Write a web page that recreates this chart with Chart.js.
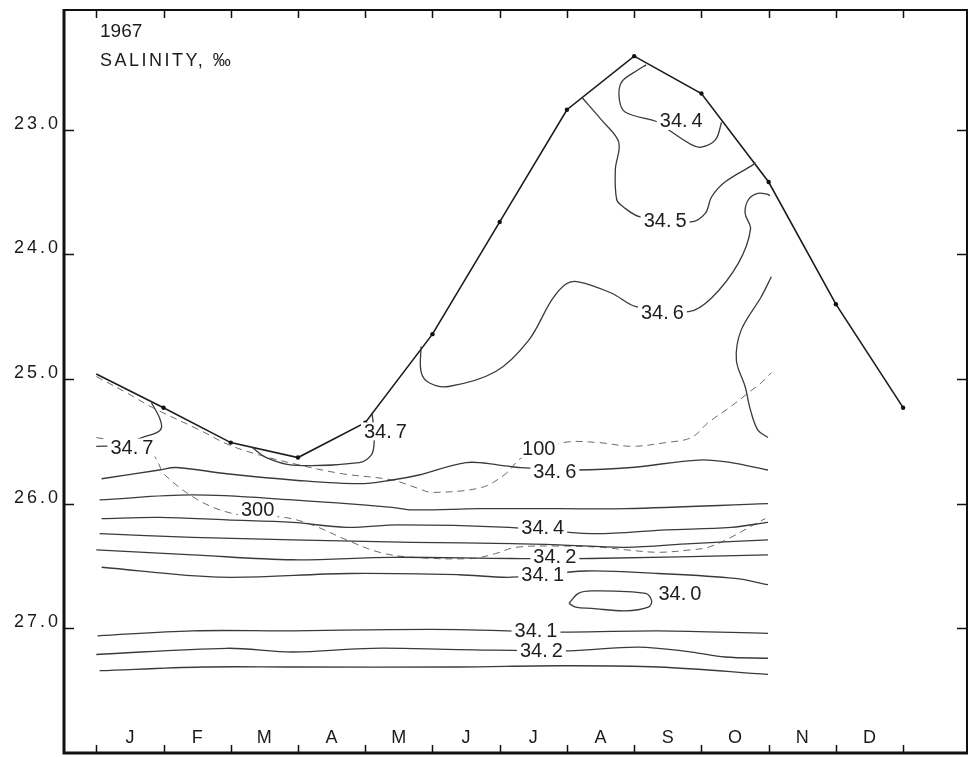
<!DOCTYPE html>
<html>
<head>
<meta charset="utf-8">
<script src="https://cdn.jsdelivr.net/npm/chart.js@4/dist/chart.umd.min.js"></script>
<style>
  html, body { margin: 0; padding: 0; background: #fff; }
  #wrap { width: 971px; height: 757px; }
</style>
</head>
<body>
<div id="wrap"><canvas id="chart"></canvas></div>
<script>
// ---- axes -------------------------------------------------------------
const monthLetters = ['J', 'F', 'M', 'A', 'M', 'J', 'J', 'A', 'S', 'O', 'N', 'D'];
const monthEdges = [0, 1, 2, 3, 4, 5, 6, 7, 8, 9, 10, 11, 12];
const sigmaTicks = [23, 24, 25, 26, 27];

// ---- sigma-t of the surface layer, sampled at the start of each month ----
const surfaceMonth = [0, 1, 2, 3, 4, 5, 6, 7, 8, 9, 10, 11, 12];
const surfaceSigma = [24.96, 25.23, 25.51, 25.63, 25.35, 24.64, 23.74, 22.84, 22.41, 22.71, 23.42, 24.40, 25.23];

// ---- salinity isolines (month, sigma-t) ----------------------------------
const s344Upper = { value: 34.4,
  month: [8.18, 8.06, 7.81, 7.78, 7.87, 8.36, 8.51, 8.85, 9.00, 9.21, 9.30],
  sigma: [22.48, 22.52, 22.62, 22.76, 22.86, 22.94, 23.00, 23.12, 23.14, 23.08, 22.94] };
const s345Upper = { value: 34.5,
  month: [7.22, 7.51, 7.77, 7.72, 7.74, 7.84, 8.09, 8.85, 9.06, 9.15, 9.35, 9.77, 9.80],
  sigma: [22.74, 22.92, 23.10, 23.32, 23.56, 23.62, 23.70, 23.74, 23.67, 23.54, 23.42, 23.28, 23.26] };
const s346Upper = { value: 34.6,
  month: [4.83, 4.83, 4.95, 5.24, 5.94, 6.43, 6.77, 6.98, 7.17, 7.66, 8.03, 8.81, 9.15, 9.55, 9.73, 9.65, 9.70, 9.84, 9.99, 10.02],
  sigma: [24.74, 24.94, 25.03, 25.06, 24.94, 24.69, 24.37, 24.24, 24.22, 24.31, 24.42, 24.46, 24.35, 24.07, 23.80, 23.67, 23.56, 23.51, 23.52, 23.53] };
const s346Right = { value: 34.6,
  month: [10.04, 9.89, 9.59, 9.52, 9.65, 9.73, 9.84, 9.99],
  sigma: [24.18, 24.34, 24.61, 24.85, 25.06, 25.25, 25.41, 25.47] };
const s347Left = { value: 34.7,
  month: [0, 0.40, 0.68, 0.90, 0.97, 0.94, 0.82],
  sigma: [25.54, 25.53, 25.47, 25.43, 25.39, 25.31, 25.19] };
const s347Spring = { value: 34.7,
  month: [2.32, 2.53, 2.92, 3.91, 4.09, 4.13, 4.13, 4.10],
  sigma: [25.55, 25.63, 25.69, 25.67, 25.61, 25.53, 25.41, 25.27] };
const s346Lower = { value: 34.6,
  month: [0.08, 0.94, 1.19, 1.94, 2.92, 3.91, 4.40, 4.80, 5.50, 5.99, 6.28, 7.17, 7.96, 8.96, 9.44, 9.99],
  sigma: [25.80, 25.73, 25.71, 25.76, 25.81, 25.84, 25.81, 25.77, 25.67, 25.69, 25.71, 25.73, 25.71, 25.65, 25.67, 25.73] };
const s345Lower = { value: 34.5,
  month: [0.05, 1.43, 2.92, 4.40, 4.70, 5.69, 6.88, 7.87, 9.99],
  sigma: [25.97, 25.93, 25.97, 26.03, 26.05, 26.04, 26.04, 26.04, 26.00] };
const s344Lower = { value: 34.4,
  month: [0.08, 0.94, 1.94, 2.92, 3.72, 4.50, 6.14, 7.37, 8.47, 9.44, 9.99],
  sigma: [26.12, 26.11, 26.13, 26.15, 26.19, 26.17, 26.19, 26.24, 26.21, 26.19, 26.15] };
const s343Upper = { value: 34.3,
  month: [0.05, 1.43, 2.92, 4.70, 6.18, 6.88, 7.87, 8.85, 9.99],
  sigma: [26.24, 26.27, 26.29, 26.31, 26.32, 26.33, 26.35, 26.32, 26.29] };
const s342Upper = { value: 34.2,
  month: [0, 1.43, 2.92, 4.40, 6.18, 7.35, 9.99],
  sigma: [26.37, 26.41, 26.45, 26.43, 26.44, 26.44, 26.41] };
const s341Upper = { value: 34.1,
  month: [0.08, 1.83, 3.76, 5.39, 6.18, 7.28, 8.36, 9.50, 9.99],
  sigma: [26.51, 26.59, 26.56, 26.57, 26.59, 26.54, 26.56, 26.60, 26.65] };
const s340Core = { value: 34.0,
  month: [7.03, 7.17, 7.37, 8.17, 8.26, 8.21, 7.87, 7.37, 7.13, 7.03],
  sigma: [26.80, 26.72, 26.70, 26.72, 26.78, 26.83, 26.86, 26.84, 26.83, 26.80] };
const s341Lower = { value: 34.1,
  month: [0.02, 1.43, 2.92, 4.40, 5.39, 6.98, 8.36, 9.99],
  sigma: [27.06, 27.02, 27.02, 27.01, 27.01, 27.03, 27.02, 27.04] };
const s342Lower = { value: 34.2,
  month: [0, 1.94, 2.92, 4.10, 5.39, 7.03, 8.06, 8.85, 9.35, 9.99],
  sigma: [27.21, 27.16, 27.19, 27.16, 27.17, 27.18, 27.15, 27.19, 27.23, 27.24] };
const s343Lower = { value: 34.3,
  month: [0.05, 1.58, 2.92, 5.39, 6.88, 8.36, 9.99],
  sigma: [27.34, 27.31, 27.31, 27.31, 27.30, 27.31, 27.37] };

const salinityLines = [s344Upper, s345Upper, s346Upper, s346Right, s347Left, s347Spring,
  s346Lower, s345Lower, s344Lower, s343Upper, s342Upper, s341Upper, s340Core,
  s341Lower, s342Lower, s343Lower];

// ---- depth isolines (m) --------------------------------------------------
const depth100 = { depth: 100,
  month: [0, 0.45, 0.84, 1.54, 1.98, 2.43, 3.02, 3.66, 4.40, 4.80, 4.99, 5.73, 6.09, 6.33, 6.95, 7.47, 7.96, 8.47, 8.85, 9.10, 9.44, 9.70, 9.89, 10.04],
  sigma: [24.98, 25.11, 25.23, 25.41, 25.53, 25.61, 25.69, 25.76, 25.81, 25.88, 25.91, 25.87, 25.76, 25.63, 25.51, 25.51, 25.54, 25.51, 25.47, 25.35, 25.22, 25.11, 25.03, 24.95] };
const depth300 = { depth: 300,
  month: [0, 0.35, 0.76, 0.90, 1.02, 1.58, 2.13, 2.80, 3.21, 3.72, 4.21, 4.70, 5.59, 5.94, 6.24, 6.88, 7.51, 7.87, 8.36, 8.85, 9.10, 9.44, 9.84, 9.95],
  sigma: [25.47, 25.50, 25.55, 25.65, 25.77, 25.99, 26.09, 26.11, 26.17, 26.29, 26.39, 26.43, 26.44, 26.40, 26.35, 26.34, 26.35, 26.37, 26.39, 26.37, 26.35, 26.27, 26.15, 26.12] };
const depthLines = [depth100, depth300];

// ---- where each line carries its label (month, sigma-t) -------------------
const salinityLabelAt = [
  [s344Upper, 8.70, 22.93], [s345Upper, 8.46, 23.73], [s346Upper, 8.42, 24.47],
  [s347Left, 0.53, 25.55], [s347Spring, 4.30, 25.42], [s346Lower, 6.82, 25.74],
  [s344Lower, 6.64, 26.19], [s342Upper, 6.82, 26.42], [s341Upper, 6.64, 26.57],
  [s340Core, 8.68, 26.72], [s341Lower, 6.54, 27.02], [s342Lower, 6.62, 27.18]
];
const depthLabelAt = [[depth100, 6.58, 25.56], [depth300, 2.40, 26.05]];

// ---- build datasets --------------------------------------------------------
const toPoints = (m, s) => m.map((x, i) => ({ x, y: s[i] }));

const datasets = [];
salinityLines.forEach(c => datasets.push({
  data: toPoints(c.month, c.sigma), showLine: true, tension: 0.35,
  borderColor: '#3a3a3a', borderWidth: 1.3, pointRadius: 0
}));
depthLines.forEach(d => datasets.push({
  data: toPoints(d.month, d.sigma), showLine: true, tension: 0.35,
  borderColor: '#6a6a6a', borderWidth: 1, borderDash: [7, 5], pointRadius: 0
}));
datasets.push({
  data: toPoints(surfaceMonth, surfaceSigma), showLine: true, tension: 0,
  borderColor: '#1c1c1c', borderWidth: 1.6,
  pointRadius: surfaceMonth.map((m, i) => i === 0 ? 0 : 2.2),
  pointBackgroundColor: '#111', pointBorderWidth: 0
});

const FONT = '"Liberation Sans", Arial, sans-serif';
const salText = v => v.toFixed(1).replace('.', '.\u2009');

const decor = {
  id: 'decor',
  afterDatasetsDraw(chart) {
    const { ctx, chartArea: a, scales: { x, y } } = chart;
    ctx.save();

    // line labels on white patches
    ctx.font = `20px ${FONT}`;
    ctx.textAlign = 'center';
    ctx.textBaseline = 'middle';
    const put = (txt, mx, sy) => {
      const px = x.getPixelForValue(mx), py = y.getPixelForValue(sy);
      const w = ctx.measureText(txt).width;
      ctx.fillStyle = '#fff';
      ctx.fillRect(px - w / 2 - 3, py - 9, w + 6, 18);
      ctx.fillStyle = '#1e1e1e';
      ctx.fillText(txt, px, py + 1);
    };
    salinityLabelAt.forEach(([c, mx, sy]) => put(salText(c.value), mx, sy));
    depthLabelAt.forEach(([d, mx, sy]) => put(String(d.depth), mx, sy));

    // frame
    ctx.strokeStyle = '#111';
    ctx.lineWidth = 2;
    ctx.beginPath();
    ctx.moveTo(a.left, a.top); ctx.lineTo(a.right, a.top); ctx.lineTo(a.right, a.bottom);
    ctx.stroke();
    ctx.lineWidth = 3;
    ctx.beginPath();
    ctx.moveTo(a.left, a.top - 1); ctx.lineTo(a.left, a.bottom); ctx.lineTo(a.right + 1, a.bottom);
    ctx.stroke();

    // inward ticks
    ctx.lineWidth = 1.5;
    ctx.beginPath();
    monthEdges.forEach(m => {
      const px = Math.round(x.getPixelForValue(m)) + 0.5;
      ctx.moveTo(px, a.bottom); ctx.lineTo(px, a.bottom - 8);
      ctx.moveTo(px, a.top); ctx.lineTo(px, a.top + 8);
    });
    sigmaTicks.forEach(v => {
      const py = Math.round(y.getPixelForValue(v)) + 0.5;
      ctx.moveTo(a.left, py); ctx.lineTo(a.left + 10, py);
      ctx.moveTo(a.right, py); ctx.lineTo(a.right - 10, py);
    });
    ctx.stroke();

    // month letters
    ctx.fillStyle = '#1a1a1a';
    ctx.font = `18px ${FONT}`;
    ctx.textAlign = 'center';
    ctx.textBaseline = 'middle';
    monthLetters.forEach((t, i) => {
      ctx.fillText(t, x.getPixelForValue(i + 0.5), a.bottom - 15);
    });

    // sigma-t labels
    ctx.textAlign = 'right';
    ctx.letterSpacing = '3px';
    sigmaTicks.forEach(v => {
      ctx.fillText(v.toFixed(1), a.left - 3, y.getPixelForValue(v) - 6);
    });

    // heading
    ctx.textAlign = 'left';
    ctx.textBaseline = 'alphabetic';
    ctx.font = `19px ${FONT}`;
    ctx.letterSpacing = '0px';
    ctx.fillText('1967', 100, 37);
    ctx.font = `18px ${FONT}`;
    ctx.letterSpacing = '2.5px';
    ctx.fillText('SALINITY, \u2030', 100, 66);
    ctx.restore();
  }
};

new Chart(document.getElementById('chart'), {
  type: 'scatter',
  data: { datasets },
  options: {
    responsive: true,
    maintainAspectRatio: false,
    animation: false,
    devicePixelRatio: 1,
    layout: { padding: { left: 64, top: 10, right: 2, bottom: 4 } },
    plugins: { legend: { display: false }, tooltip: { enabled: false } },
    scales: {
      x: { type: 'linear', min: -0.48, max: 12.95, display: false },
      y: { type: 'linear', reverse: true, min: 22.04, max: 28.0, display: false }
    }
  },
  plugins: [decor]
});
</script>
</body>
</html>
